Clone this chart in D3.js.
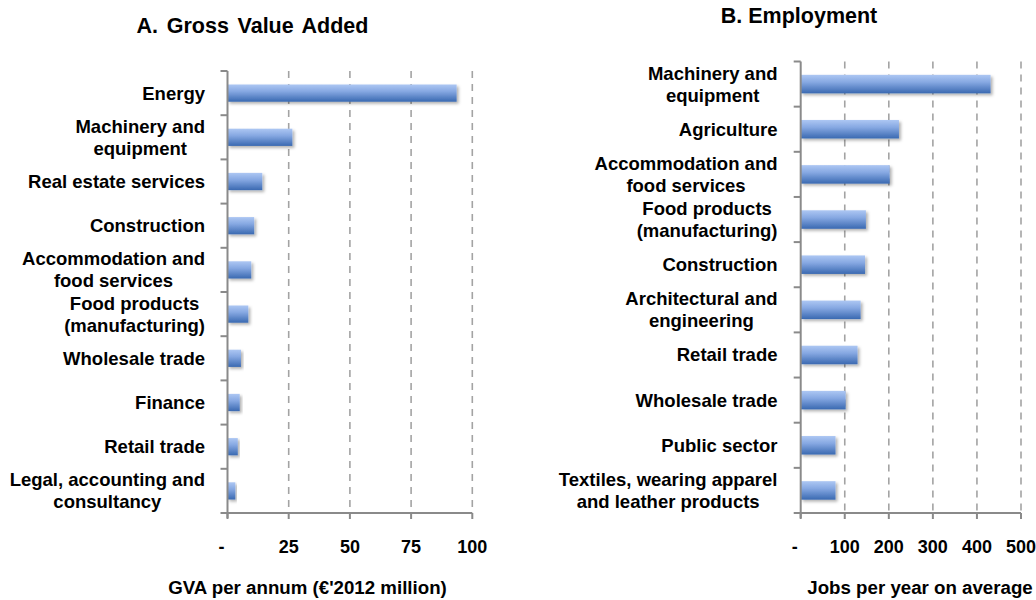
<!DOCTYPE html>
<html>
<head>
<meta charset="utf-8">
<script src="https://cdn.jsdelivr.net/npm/d3@7"></script>
<style>
  html, body { margin: 0; padding: 0; background: #fff; }
  svg { display: block; }
  text { font-family: "Liberation Sans", Arial, Helvetica, sans-serif; font-weight: bold; fill: #000; }
</style>
</head>
<body>
<svg id="chart" width="1036" height="600"></svg>
<script>
// ---- Data ----
const gvaCategories = ["Energy", "Machinery and\nequipment", "Real estate services", "Construction",
  "Accommodation and\nfood services", "Food products\n(manufacturing)", "Wholesale trade", "Finance",
  "Retail trade", "Legal, accounting and\nconsultancy"];
const gvaValues = [93.6, 26.5, 14.2, 10.9, 9.7, 8.5, 5.5, 5.0, 4.2, 3.2];
const gvaTicks = [0, 25, 50, 75, 100];
const gvaTickLabels = ["-", "25", "50", "75", "100"];

const jobsCategories = ["Machinery and\nequipment", "Agriculture", "Accommodation and\nfood services",
  "Food products\n(manufacturing)", "Construction", "Architectural and\nengineering", "Retail trade",
  "Wholesale trade", "Public sector", "Textiles, wearing apparel\nand leather products"];
const jobsValues = [431, 223, 202, 148, 146, 136, 129, 102, 79, 79];
const jobsTicks = [0, 100, 200, 300, 400, 500];
const jobsTickLabels = ["-", "100", "200", "300", "400", "500"];

const svg = d3.select("#chart");
const defs = svg.append("defs");
const grad = defs.append("linearGradient").attr("id", "barGrad")
  .attr("x1", 0).attr("y1", 0).attr("x2", 0).attr("y2", 1);
grad.append("stop").attr("offset", "0%").attr("stop-color", "#adc7f3");
grad.append("stop").attr("offset", "40%").attr("stop-color", "#86a8e2");
grad.append("stop").attr("offset", "100%").attr("stop-color", "#3a69b1");
const filt = defs.append("filter").attr("id", "shadow")
  .attr("x", "-10%").attr("y", "-30%").attr("width", "130%").attr("height", "180%");
filt.append("feDropShadow").attr("dx", 2).attr("dy", 2).attr("stdDeviation", 1.6)
  .attr("flood-color", "#000").attr("flood-opacity", 0.3);

function panel(cfg) {
  const g = svg.append("g");
  const x = d3.scaleLinear().domain(cfg.domain).range([cfg.x0, cfg.x1]);
  const y = d3.scaleBand().domain(cfg.categories).range([cfg.y0, cfg.y1])
    .paddingInner(cfg.pad).paddingOuter(cfg.pad / 2);
  const step = y.step();
  const axisColor = "#8a8a8a";

  // gridlines
  g.selectAll(".grid").data(cfg.ticks.filter(d => d !== 0)).enter().append("line")
    .attr("x1", d => x(d)).attr("x2", d => x(d))
    .attr("y1", cfg.y0).attr("y2", cfg.y1)
    .attr("stroke", "#a3a3a3").attr("stroke-width", 1.6).attr("stroke-dasharray", "7,6");

  // bars
  g.selectAll(".bar").data(cfg.values).enter().append("rect")
    .attr("x", x(0))
    .attr("y", (d, i) => y(cfg.categories[i]))
    .attr("width", d => x(d) - x(0))
    .attr("height", y.bandwidth())
    .attr("fill", "url(#barGrad)")
    .attr("filter", "url(#shadow)");

  // y axis line
  g.append("line").attr("x1", x(0)).attr("x2", x(0)).attr("y1", cfg.y0).attr("y2", cfg.y1 + 5)
    .attr("stroke", axisColor).attr("stroke-width", 2);
  // y ticks at band boundaries
  const bounds = cfg.categories.map(c => y(c) - y.paddingInner() * step / 2).concat([cfg.y1]);
  g.selectAll(".ytick").data(bounds).enter().append("line")
    .attr("x1", x(0) - 7).attr("x2", x(0)).attr("y1", d => d).attr("y2", d => d)
    .attr("stroke", axisColor).attr("stroke-width", 2);
  // x axis line
  g.append("line").attr("x1", x(0)).attr("x2", x(cfg.domain[1])).attr("y1", cfg.y1).attr("y2", cfg.y1)
    .attr("stroke", axisColor).attr("stroke-width", 2);
  g.selectAll(".xtick").data(cfg.ticks).enter().append("line")
    .attr("x1", d => x(d)).attr("x2", d => x(d)).attr("y1", cfg.y1).attr("y2", cfg.y1 + 6)
    .attr("stroke", axisColor).attr("stroke-width", 2);

  // x tick labels
  g.selectAll(".xlab").data(cfg.ticks).enter().append("text")
    .attr("x", (d, i) => x(d) + (d === 0 ? -6 : 0))
    .attr("y", cfg.y1 + 40)
    .attr("text-anchor", "middle")
    .style("font-size", "18px")
    .text((d, i) => cfg.tickLabels[i]);

  // category labels: block right-aligned, lines centered
  cfg.categories.forEach(c => {
    const lines = c.split("\n");
    const cy = y(c) + y.bandwidth() / 2;
    const lh = 22;
    const t = g.append("text").attr("text-anchor", "middle").style("font-size", "18.5px");
    const spans = lines.map((ln, k) => t.append("tspan").text(ln)
      .attr("y", cy + (k - (lines.length - 1) / 2) * lh + 6.5));
    const w = d3.max(spans.map(s => s.node().getComputedTextLength()));
    spans.forEach(s => s.attr("x", cfg.labelRight - w / 2));
  });

  // title
  svg.append("text").attr("x", cfg.titleX).attr("y", cfg.titleY).attr("text-anchor", "middle")
    .style("font-size", "21.5px").style("word-spacing", cfg.titleWordSpacing + "px").text(cfg.title);
  // axis title
  svg.append("text").attr("x", cfg.axisTitleX).attr("y", 594).attr("text-anchor", "middle")
    .style("font-size", "18.7px").text(cfg.axisTitle);
}

panel({
  categories: gvaCategories, values: gvaValues, ticks: gvaTicks, tickLabels: gvaTickLabels,
  domain: [0, 100], x0: 227.5, x1: 472.3, y0: 71, y1: 513, pad: 0.61, labelRight: 205,
  title: "A. Gross Value Added", titleX: 252.5, titleY: 33, titleWordSpacing: 2.7,
  axisTitle: "GVA per annum (€'2012 million)", axisTitleX: 307.5
});
panel({
  categories: jobsCategories, values: jobsValues, ticks: jobsTicks, tickLabels: jobsTickLabels,
  domain: [0, 500], x0: 800.7, x1: 1021, y0: 61.5, y1: 513, pad: 0.59, labelRight: 777.5,
  title: "B. Employment", titleX: 799, titleY: 23, titleWordSpacing: 0,
  axisTitle: "Jobs per year on average", axisTitleX: 920
});
</script>
</body>
</html>
